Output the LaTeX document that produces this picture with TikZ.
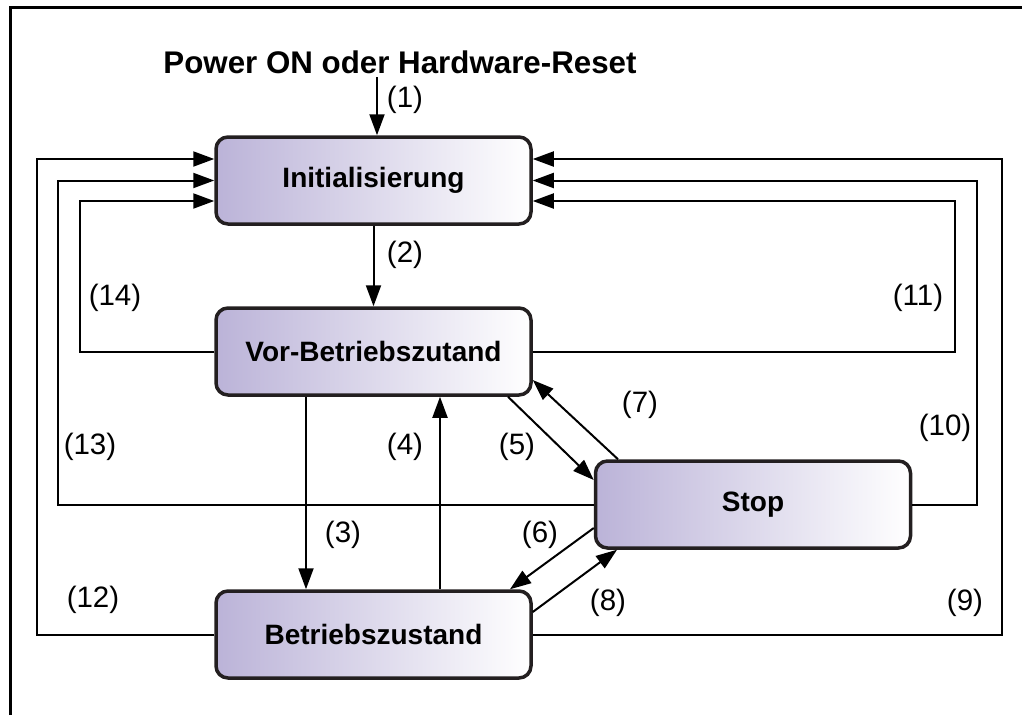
\documentclass[tikz,border=0pt]{standalone}
\usepackage{fontspec}
\setmainfont{Liberation Sans}
\usetikzlibrary{arrows.meta}
\definecolor{lav}{RGB}{187,179,216}
\definecolor{edge}{RGB}{35,31,32}
\tikzset{
  state/.style={draw=edge, line width=3.5pt, rounded corners=12pt,
    minimum width=315pt, minimum height=87pt, inner sep=0pt,
    left color=lav, right color=white, font=\fontsize{28}{31}\selectfont\bfseries},
  conn/.style={line width=2pt, -{Triangle[length=21pt,width=15pt]}},
  lbl/.style={font=\fontsize{29.5}{32}\selectfont, inner sep=0pt},
  frame/.style={line width=3pt}
}
\begin{document}
\begin{tikzpicture}[x=1pt,y=-1pt]
\useasboundingbox (0,0) rectangle (1022,715);
\draw[frame] (10,715) -- (10,7) -- (1022,7);
\node[font=\fontsize{31.3}{34}\selectfont\bfseries, inner sep=0pt] (title) at (400,62) {Power ON oder Hardware-Reset};
\node[state] (init) at (373.5,180.5) {Initialisierung};
\node[state] (vor) at (373.5,351.5) {Vor-Betriebszutand};
\node[state] (stop) at (753,504.5) {Stop};
\node[state] (betr) at (373.5,634.5) {Betriebszustand};
\coordinate (p1) at (377,77);
% vertical connectors
\draw[conn] (p1) -- (p1 |- init.north);
\draw[conn] (init) -- (vor);
\draw[conn] ([xshift=-67.5pt]vor.south) -- ([xshift=-67.5pt]betr.north);
\draw[conn] ([xshift=66.5pt]betr.north) -- ([xshift=66.5pt]vor.south);
% diagonals
\draw[conn] ([xshift=134.5pt]vor.south) -- ([yshift=24.5pt]stop.west);
\draw[conn] ([xshift=-135pt]stop.north) -- ([yshift=-28.5pt]vor.east);
\draw[conn] ([yshift=-23.5pt]stop.west) -- ([xshift=136.5pt]betr.north);
\draw[conn] ([yshift=22.5pt]betr.east) -- ([xshift=-136pt]stop.south);
% left loops
\draw[conn] (betr.west) -- ++(-177,0) |- ([yshift=21.5pt]init.west);
\draw[conn] (stop.west) -- ++(-536,0) |- (init.west);
\draw[conn] (vor.west) -- ++(-134,0) |- ([yshift=-20.5pt]init.west);
% right loops
\draw[conn] (betr.east) -- ++(469,0) |- ([yshift=21.5pt]init.east);
\draw[conn] (stop.east) -- ++(65,0) |- (init.east);
\draw[conn] (vor.east) -- ++(422,0) |- ([yshift=-20.5pt]init.east);
% labels
\node[lbl] (l1) at (405,100) {(1)};
\node[lbl] (l2) at (405,255) {(2)};
\node[lbl] (l3) at (343,535) {(3)};
\node[lbl] (l4) at (405,447) {(4)};
\node[lbl] (l5) at (517,447) {(5)};
\node[lbl] (l6) at (540,535) {(6)};
\node[lbl] (l7) at (640,405) {(7)};
\node[lbl] (l8) at (608,603) {(8)};
\node[lbl] (l9) at (965,603) {(9)};
\node[lbl] (l10) at (945,428) {(10)};
\node[lbl] (l11) at (918,298) {(11)};
\node[lbl] (l12) at (93,600) {(12)};
\node[lbl] (l13) at (90,447) {(13)};
\node[lbl] (l14) at (115,298) {(14)};
\end{tikzpicture}
\end{document}
